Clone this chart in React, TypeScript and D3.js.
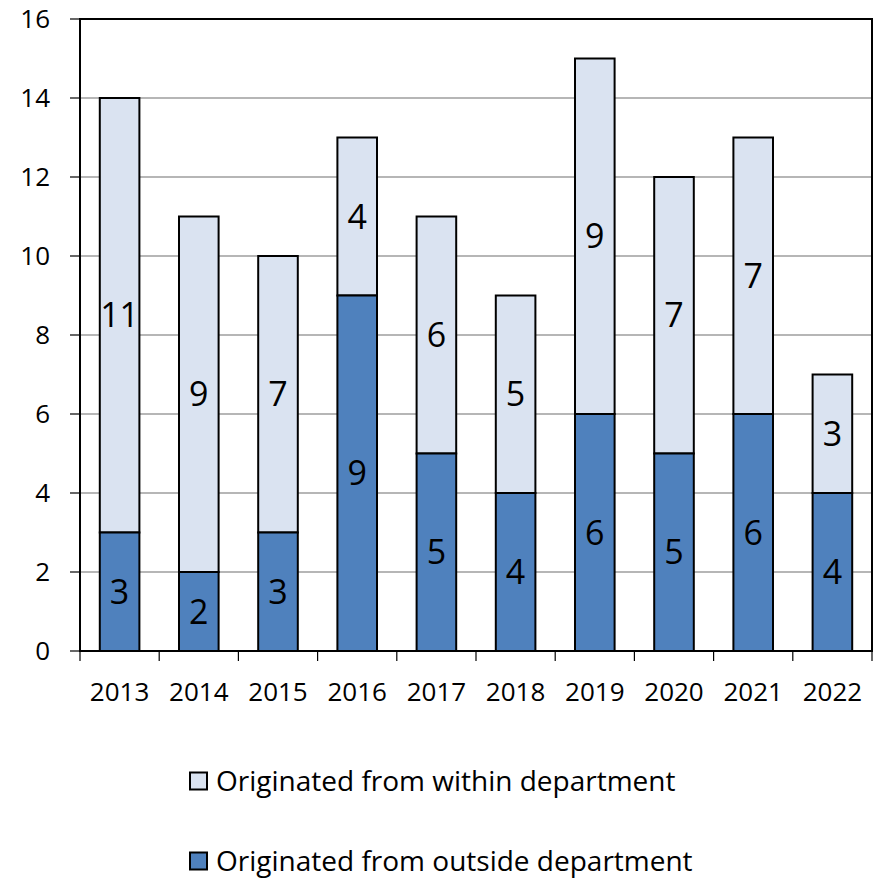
import React from "react";
import * as d3 from "d3";

const years = ["2013","2014","2015","2016","2017","2018","2019","2020","2021","2022"];
const outside = [3,2,3,9,5,4,6,5,6,4];
const within = [11,9,7,4,6,5,9,7,7,3];
const yTicks = [0,2,4,6,8,10,12,14,16];
const seriesNames = ["Originated from within department","Originated from outside department"];

const LIGHT = "#DAE3F1";
const DARK = "#4F81BD";
const FONT = "'Open Sans', 'Noto Sans', sans-serif";

export default function App() {
  const W = 876, H = 878;
  const left = 80, right = 872, top = 19, bottom = 651;
  const x = d3.scaleBand<string>().domain(years).range([left, right]).paddingInner(0.5).paddingOuter(0.25);
  const y = d3.scaleLinear().domain([0, 16]).range([bottom, top]);
  const bw = x.bandwidth();
  const step = x.step();

  return (
    <svg width={W} height={H} style={{ position: "absolute", left: 0, top: 0 }} fontFamily={FONT}>
      <rect x={0} y={0} width={W} height={H} fill="white" />
      {yTicks.map(t => (
        <g key={t}>
          <line x1={left} x2={right} y1={y(t)} y2={y(t)} stroke="#6f6f6f" strokeWidth={1.2} />
          <line x1={70} x2={left} y1={y(t)} y2={y(t)} stroke="#000" strokeWidth={1.2} />
          <text x={50} y={y(t)} dy="0.36em" textAnchor="end" fontSize={26}>{t}</text>
        </g>
      ))}
      {years.map((yr, i) => {
        const x0 = x(yr)!;
        const o = outside[i], w = within[i];
        return (
          <g key={yr}>
            <rect x={x0} y={y(o + w)} width={bw} height={y(o) - y(o + w)} fill={LIGHT} stroke="#000" strokeWidth={2} />
            <rect x={x0} y={y(o)} width={bw} height={y(0) - y(o)} fill={DARK} stroke="#000" strokeWidth={2} />
            <text x={x0 + bw / 2} y={y(o / 2)} dy="0.36em" textAnchor="middle" fontSize={34}>{o}</text>
            <text x={x0 + bw / 2} y={y(o + w / 2)} dy="0.36em" textAnchor="middle" fontSize={34}>{w}</text>
            <text x={x0 + bw / 2} y={692} dy="0.36em" textAnchor="middle" fontSize={26}>{yr}</text>
          </g>
        );
      })}
      {d3.range(years.length + 1).map(i => (
        <line key={i} x1={left + i * step} x2={left + i * step} y1={bottom} y2={bottom + 10} stroke="#000" strokeWidth={1.2} />
      ))}
      <rect x={left} y={top} width={right - left} height={bottom - top} fill="none" stroke="#000" strokeWidth={2} />
      <line x1={left} x2={right} y1={bottom} y2={bottom} stroke="#000" strokeWidth={2} />
      {seriesNames.map((name, i) => {
        const cy = 781 + i * 80;
        return (
          <g key={name}>
            <rect x={190} y={cy - 8.5} width={17} height={17} fill={i === 0 ? LIGHT : DARK} stroke="#000" strokeWidth={2} />
            <text x={216} y={cy} dy="0.36em" fontSize={28}>{name}</text>
          </g>
        );
      })}
    </svg>
  );
}
